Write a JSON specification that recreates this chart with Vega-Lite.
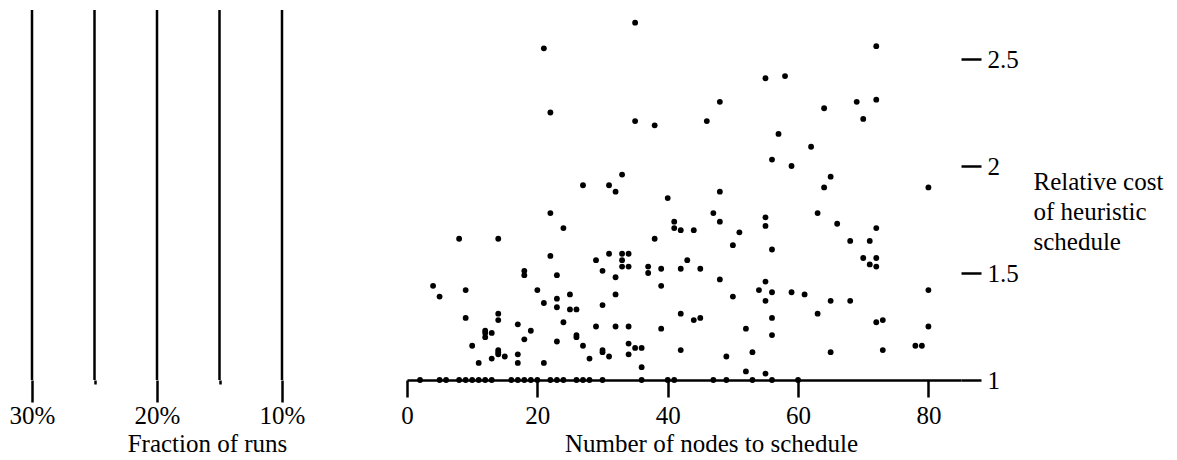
{
  "$schema": "https://vega.github.io/schema/vega-lite/v6.json",
  "padding": {"left": 7, "top": 8, "right": 5, "bottom": 0},
  "background": "white",
  "spacing": 0,
  "bounds": "flush",
  "config": {
    "view": {"stroke": null},
    "font": "Liberation Serif",
    "axis": {
      "labelFont": "Liberation Serif", "titleFont": "Liberation Serif",
      "labelColor": "black", "titleColor": "black",
      "labelFontSize": 25, "titleFontSize": 25, "titleFontWeight": "normal",
      "domainColor": "black", "tickColor": "black", "grid": false, "labelFlush": false
    }
  },
  "datasets": {
    "fractions": [
      {"fraction": 30}, {"fraction": 25}, {"fraction": 20}, {"fraction": 15}, {"fraction": 10}
    ],
    "runs": [
      {"nodes": 2, "cost": 1}, {"nodes": 5, "cost": 1}, {"nodes": 6, "cost": 1}, {"nodes": 8, "cost": 1},
      {"nodes": 9, "cost": 1}, {"nodes": 10, "cost": 1}, {"nodes": 11, "cost": 1}, {"nodes": 12, "cost": 1},
      {"nodes": 13, "cost": 1}, {"nodes": 16, "cost": 1}, {"nodes": 17, "cost": 1}, {"nodes": 18, "cost": 1},
      {"nodes": 19, "cost": 1}, {"nodes": 20, "cost": 1}, {"nodes": 22, "cost": 1}, {"nodes": 23, "cost": 1},
      {"nodes": 24, "cost": 1}, {"nodes": 26, "cost": 1}, {"nodes": 27, "cost": 1}, {"nodes": 28, "cost": 1},
      {"nodes": 30, "cost": 1}, {"nodes": 36, "cost": 1}, {"nodes": 40, "cost": 1}, {"nodes": 41, "cost": 1},
      {"nodes": 47, "cost": 1}, {"nodes": 49, "cost": 1}, {"nodes": 53, "cost": 1}, {"nodes": 56, "cost": 1},
      {"nodes": 60, "cost": 1},

      {"nodes": 21, "cost": 2.55}, {"nodes": 22, "cost": 2.25}, {"nodes": 27, "cost": 1.91}, {"nodes": 22, "cost": 1.78},
      {"nodes": 24, "cost": 1.71}, {"nodes": 8, "cost": 1.66}, {"nodes": 14, "cost": 1.66}, {"nodes": 22, "cost": 1.58},
      {"nodes": 29, "cost": 1.56}, {"nodes": 18, "cost": 1.51}, {"nodes": 18, "cost": 1.49}, {"nodes": 23, "cost": 1.49},
      {"nodes": 4, "cost": 1.44}, {"nodes": 9, "cost": 1.42}, {"nodes": 20, "cost": 1.42}, {"nodes": 5, "cost": 1.39},
      {"nodes": 25, "cost": 1.40}, {"nodes": 23, "cost": 1.38}, {"nodes": 21, "cost": 1.36}, {"nodes": 23, "cost": 1.34},
      {"nodes": 25, "cost": 1.33}, {"nodes": 26, "cost": 1.33}, {"nodes": 14, "cost": 1.31}, {"nodes": 14, "cost": 1.28},
      {"nodes": 9, "cost": 1.29}, {"nodes": 24, "cost": 1.27}, {"nodes": 17, "cost": 1.26}, {"nodes": 29, "cost": 1.25},
      {"nodes": 12, "cost": 1.23}, {"nodes": 12, "cost": 1.22}, {"nodes": 12, "cost": 1.20}, {"nodes": 13, "cost": 1.22},
      {"nodes": 19, "cost": 1.23}, {"nodes": 26, "cost": 1.21}, {"nodes": 26, "cost": 1.20}, {"nodes": 18, "cost": 1.19},
      {"nodes": 23, "cost": 1.18}, {"nodes": 10, "cost": 1.16}, {"nodes": 27, "cost": 1.16}, {"nodes": 14, "cost": 1.14},
      {"nodes": 14, "cost": 1.13}, {"nodes": 14, "cost": 1.12}, {"nodes": 13, "cost": 1.10}, {"nodes": 15, "cost": 1.11},
      {"nodes": 17, "cost": 1.12}, {"nodes": 17, "cost": 1.08}, {"nodes": 11, "cost": 1.08}, {"nodes": 21, "cost": 1.08},
      {"nodes": 28, "cost": 1.10},

      {"nodes": 35, "cost": 2.67}, {"nodes": 55, "cost": 2.41}, {"nodes": 58, "cost": 2.42}, {"nodes": 48, "cost": 2.30},
      {"nodes": 35, "cost": 2.21}, {"nodes": 38, "cost": 2.19}, {"nodes": 46, "cost": 2.21}, {"nodes": 57, "cost": 2.15},
      {"nodes": 56, "cost": 2.03}, {"nodes": 59, "cost": 2.00}, {"nodes": 33, "cost": 1.96}, {"nodes": 31, "cost": 1.91},
      {"nodes": 32, "cost": 1.88}, {"nodes": 40, "cost": 1.85}, {"nodes": 48, "cost": 1.88}, {"nodes": 47, "cost": 1.78},
      {"nodes": 48, "cost": 1.74}, {"nodes": 41, "cost": 1.74}, {"nodes": 41, "cost": 1.71}, {"nodes": 42, "cost": 1.70},
      {"nodes": 44, "cost": 1.70}, {"nodes": 51, "cost": 1.69}, {"nodes": 55, "cost": 1.76}, {"nodes": 55, "cost": 1.72},
      {"nodes": 38, "cost": 1.66}, {"nodes": 50, "cost": 1.63}, {"nodes": 56, "cost": 1.61}, {"nodes": 31, "cost": 1.59},
      {"nodes": 33, "cost": 1.59}, {"nodes": 34, "cost": 1.59}, {"nodes": 33, "cost": 1.56}, {"nodes": 33, "cost": 1.53},
      {"nodes": 34, "cost": 1.53}, {"nodes": 30, "cost": 1.51}, {"nodes": 32, "cost": 1.48}, {"nodes": 37, "cost": 1.53},
      {"nodes": 37, "cost": 1.50}, {"nodes": 39, "cost": 1.52}, {"nodes": 43, "cost": 1.56}, {"nodes": 42, "cost": 1.52},
      {"nodes": 45, "cost": 1.52}, {"nodes": 39, "cost": 1.44}, {"nodes": 48, "cost": 1.47}, {"nodes": 50, "cost": 1.39},
      {"nodes": 54, "cost": 1.42}, {"nodes": 55, "cost": 1.46}, {"nodes": 55, "cost": 1.37}, {"nodes": 56, "cost": 1.41},
      {"nodes": 59, "cost": 1.41}, {"nodes": 32, "cost": 1.40}, {"nodes": 30, "cost": 1.35}, {"nodes": 32, "cost": 1.25},
      {"nodes": 34, "cost": 1.25}, {"nodes": 42, "cost": 1.31}, {"nodes": 44, "cost": 1.28}, {"nodes": 45, "cost": 1.29},
      {"nodes": 56, "cost": 1.29}, {"nodes": 39, "cost": 1.24}, {"nodes": 52, "cost": 1.24}, {"nodes": 56, "cost": 1.21},
      {"nodes": 34, "cost": 1.17}, {"nodes": 34, "cost": 1.12}, {"nodes": 35, "cost": 1.15}, {"nodes": 36, "cost": 1.15},
      {"nodes": 30, "cost": 1.14}, {"nodes": 30, "cost": 1.13}, {"nodes": 31, "cost": 1.11}, {"nodes": 42, "cost": 1.14},
      {"nodes": 49, "cost": 1.11}, {"nodes": 53, "cost": 1.13}, {"nodes": 36, "cost": 1.06}, {"nodes": 52, "cost": 1.04},
      {"nodes": 55, "cost": 1.03},

      {"nodes": 72, "cost": 2.56}, {"nodes": 69, "cost": 2.30}, {"nodes": 72, "cost": 2.31}, {"nodes": 64, "cost": 2.27},
      {"nodes": 70, "cost": 2.22}, {"nodes": 62, "cost": 2.09}, {"nodes": 65, "cost": 1.95}, {"nodes": 64, "cost": 1.90},
      {"nodes": 80, "cost": 1.90}, {"nodes": 63, "cost": 1.78}, {"nodes": 66, "cost": 1.73}, {"nodes": 72, "cost": 1.71},
      {"nodes": 68, "cost": 1.65}, {"nodes": 71, "cost": 1.65}, {"nodes": 70, "cost": 1.57}, {"nodes": 72, "cost": 1.57},
      {"nodes": 71, "cost": 1.54}, {"nodes": 72, "cost": 1.53}, {"nodes": 61, "cost": 1.40}, {"nodes": 65, "cost": 1.37},
      {"nodes": 68, "cost": 1.37}, {"nodes": 63, "cost": 1.31}, {"nodes": 80, "cost": 1.42}, {"nodes": 72, "cost": 1.27},
      {"nodes": 73, "cost": 1.28}, {"nodes": 80, "cost": 1.25}, {"nodes": 65, "cost": 1.13}, {"nodes": 73, "cost": 1.14},
      {"nodes": 78, "cost": 1.16}, {"nodes": 79, "cost": 1.16}
    ]
  },
  "hconcat": [
    {
      "width": 400,
      "height": 370,
      "data": {"name": "fractions"},
      "layer": [
        {
          "transform": [{"filter": "datum.fraction % 10 == 0"}],
          "mark": {"type": "rule", "color": "black", "strokeWidth": 2.5},
          "encoding": {
            "x": {
              "field": "fraction", "type": "quantitative",
              "scale": {"domain": [0, 32], "reverse": true, "nice": false, "zero": false},
              "axis": {
                "orient": "bottom",
                "values": [10, 20, 30], "domain": false, "tickSize": 22, "tickWidth": 2.5,
                "labelPadding": 1, "labelExpr": "datum.value + '%'",
                "title": "Fraction of runs", "titleY": 51, "titleBaseline": "top"
              }
            }
          }
        },
        {
          "transform": [{"filter": "datum.fraction % 10 != 0"}],
          "mark": {"type": "rule", "color": "black", "strokeWidth": 2.5},
          "encoding": {
            "x": {
              "field": "fraction", "type": "quantitative",
              "axis": {"orient": "bottom", "values": [15, 25], "domain": false, "tickSize": 4, "tickWidth": 2.5, "labels": false, "title": null}
            }
          }
        }
      ],
      "resolve": {"axis": {"x": "independent"}}
    },
    {
      "width": 554,
      "height": 370,
      "data": {"name": "runs"},
      "mark": {"type": "circle", "size": 34, "color": "black", "opacity": 1},
      "encoding": {
        "x": {
          "field": "nodes", "type": "quantitative",
          "scale": {"domain": [0, 85], "nice": false, "zero": false},
          "axis": {
            "values": [0, 20, 40, 60, 80], "tickSize": 17, "tickWidth": 2.5, "domainWidth": 2.5,
            "labelPadding": 6, "title": "Number of nodes to schedule",
            "titleX": 304, "titleY": 51, "titleBaseline": "top", "titleAlign": "center"
          }
        },
        "y": {
          "field": "cost", "type": "quantitative",
          "scale": {"domain": [1, 2.729], "nice": false, "zero": false},
          "axis": {
            "orient": "right", "values": [1, 1.5, 2, 2.5], "domain": false,
            "tickSize": 20, "tickWidth": 2.5, "labelPadding": 6, "format": "~g",
            "title": ["Relative cost", "of heuristic", "schedule"],
            "titleAngle": 0, "titleAlign": "left", "titleBaseline": "top",
            "titleX": 72, "titleY": 159, "titleLineHeight": 30
          }
        }
      }
    }
  ]
}
